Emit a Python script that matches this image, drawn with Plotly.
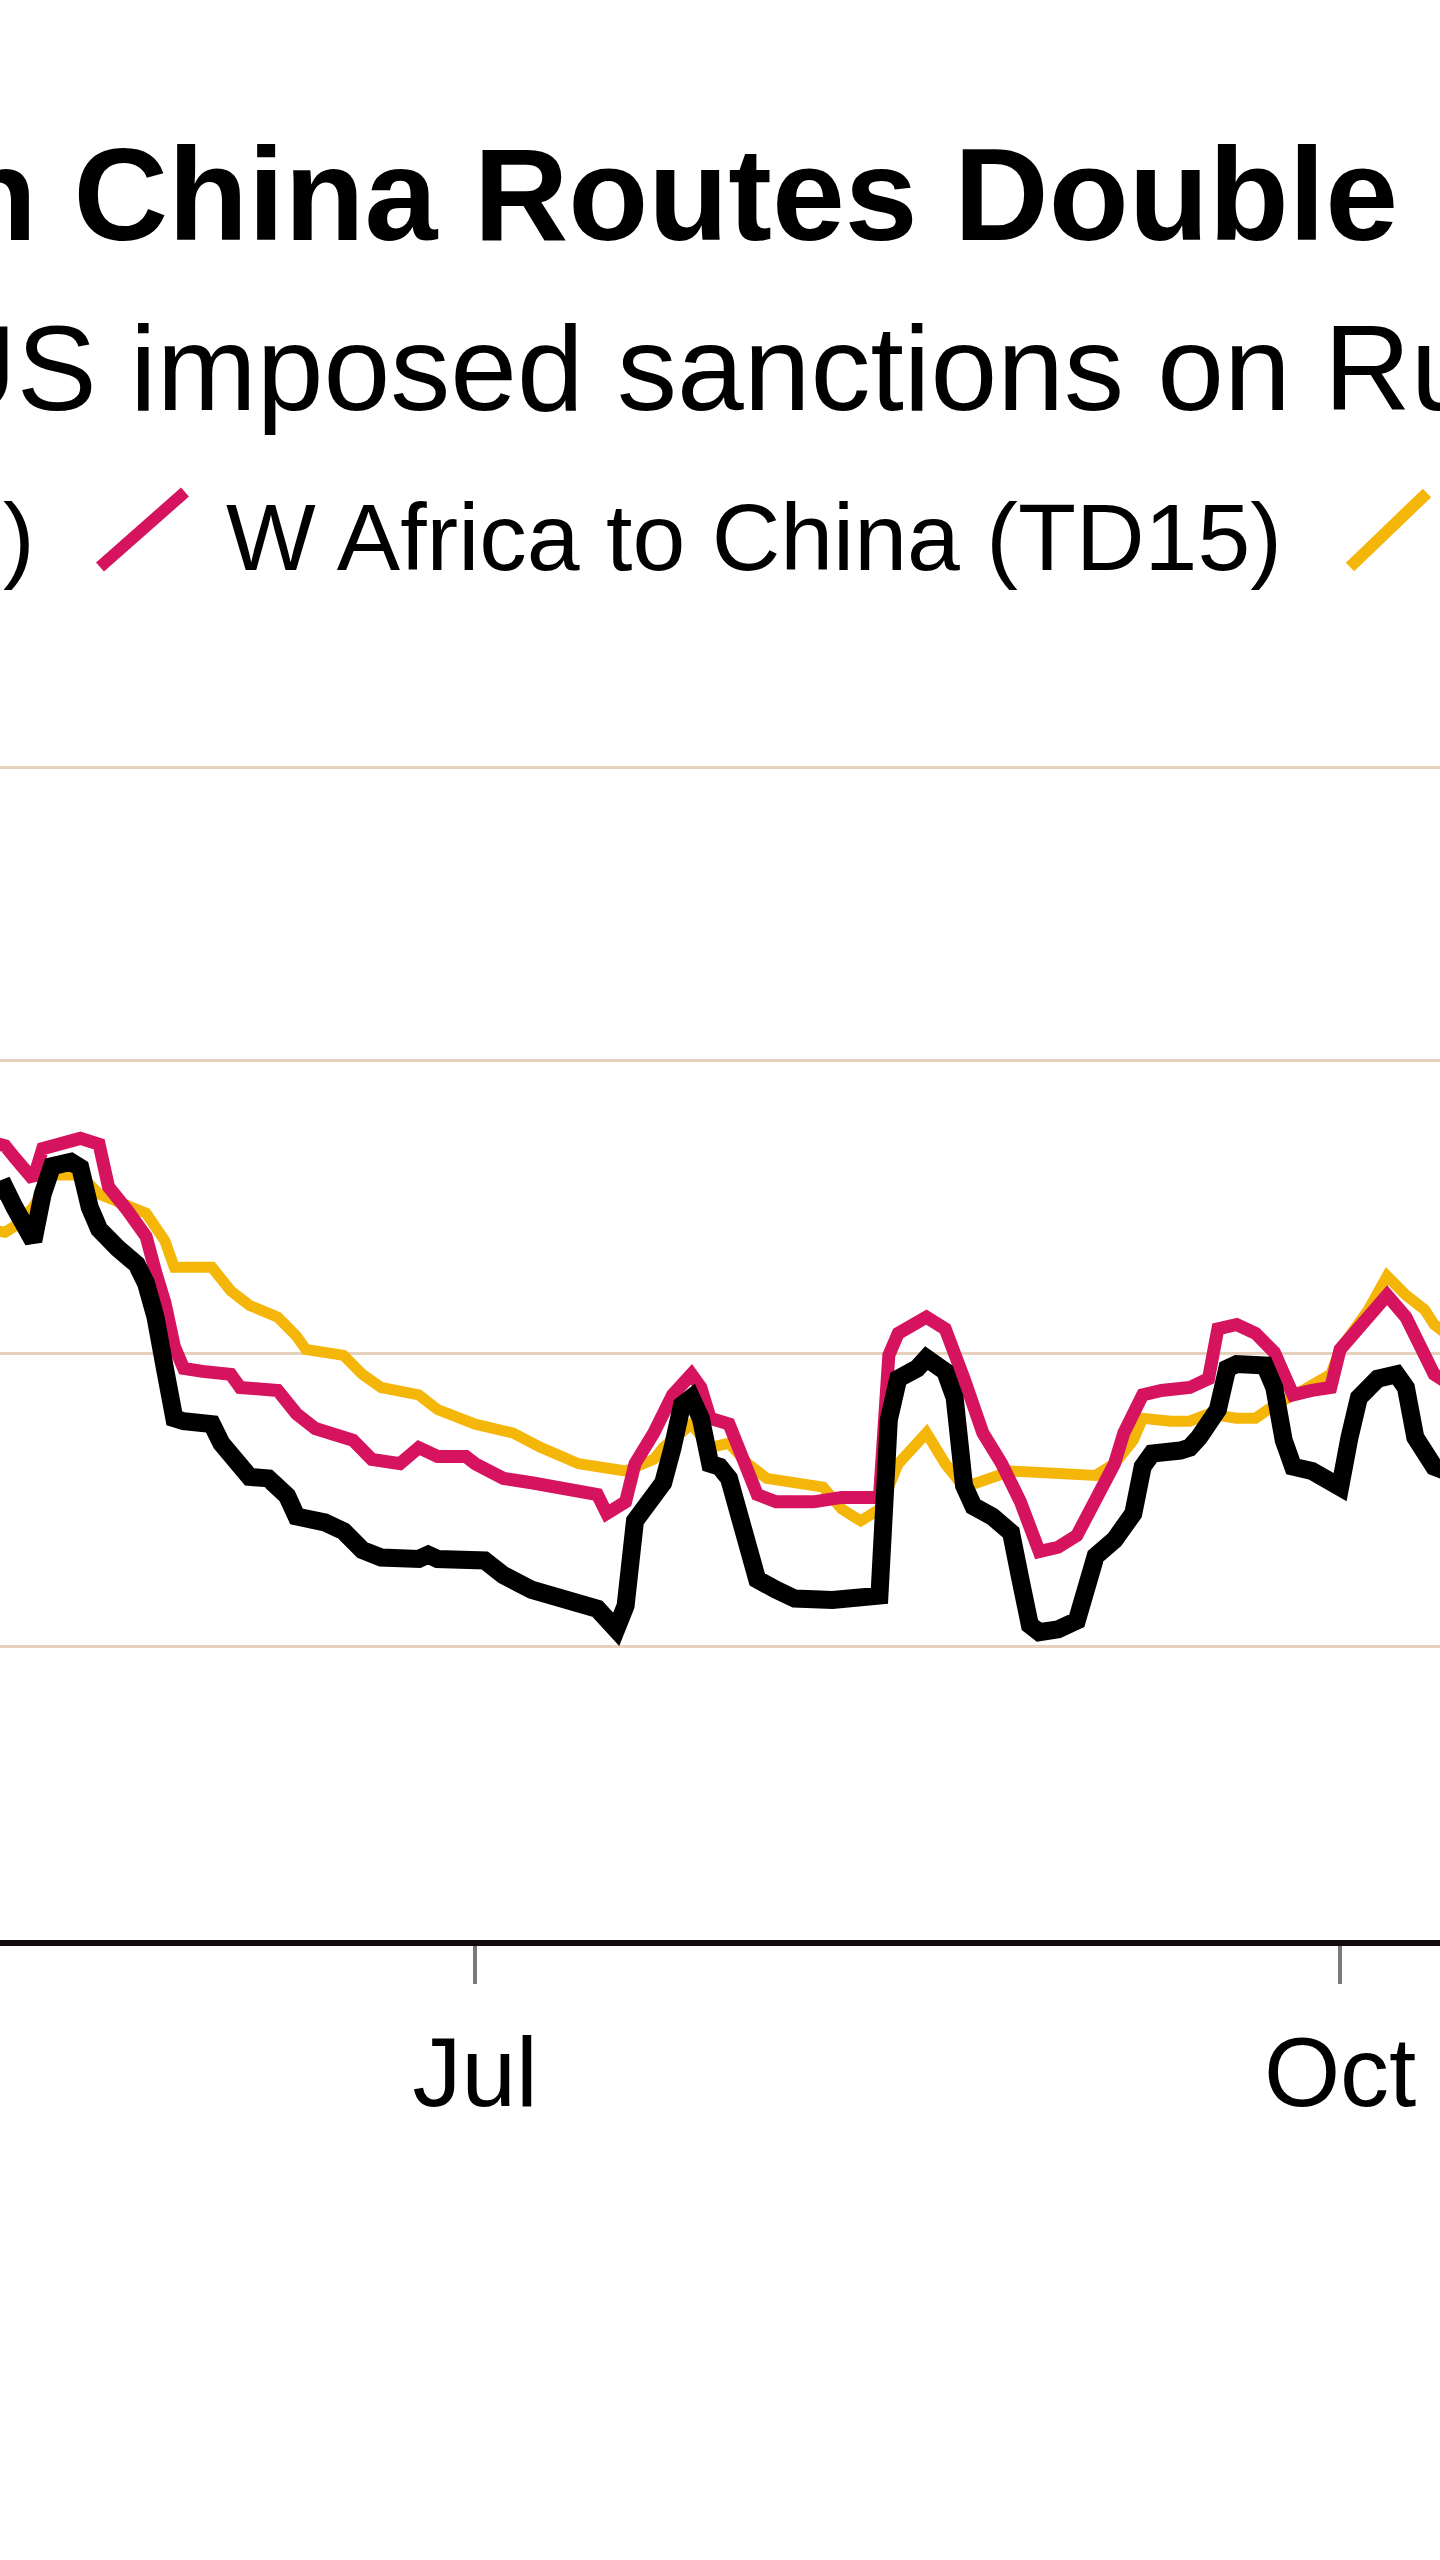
import plotly.graph_objects as go

# ---------------- data ----------------
black_dates = ["2025-05-10","2025-05-12","2025-05-13","2025-05-15","2025-05-16","2025-05-17","2025-05-19",
    "2025-05-20","2025-05-21","2025-05-22","2025-05-24","2025-05-26","2025-05-27","2025-05-28","2025-05-29",
    "2025-05-30","2025-05-31","2025-06-03","2025-06-04","2025-06-06","2025-06-07","2025-06-09","2025-06-11",
    "2025-06-12","2025-06-15","2025-06-17","2025-06-19","2025-06-21","2025-06-25","2025-06-26","2025-06-27",
    "2025-07-02","2025-07-04","2025-07-07","2025-07-10","2025-07-14","2025-07-16","2025-07-17","2025-07-18",
    "2025-07-19","2025-07-21","2025-07-22","2025-07-23","2025-07-24","2025-07-25","2025-07-26","2025-07-27",
    "2025-07-28","2025-07-30","2025-07-31","2025-08-02","2025-08-04","2025-08-08","2025-08-11","2025-08-13",
    "2025-08-14","2025-08-15","2025-08-17","2025-08-18","2025-08-20","2025-08-21","2025-08-22","2025-08-23",
    "2025-08-25","2025-08-27","2025-08-28","2025-08-29","2025-08-30","2025-09-01","2025-09-03","2025-09-04",
    "2025-09-05","2025-09-07","2025-09-09","2025-09-10","2025-09-11","2025-09-14","2025-09-15","2025-09-16",
    "2025-09-18","2025-09-19","2025-09-20","2025-09-23","2025-09-24","2025-09-25","2025-09-26","2025-09-28",
    "2025-09-30","2025-10-01","2025-10-02","2025-10-03","2025-10-05","2025-10-07","2025-10-08","2025-10-09",
    "2025-10-11","2025-10-13"]
black_values = [70.8,71.3,70.0,67.7,70.9,72.8,73.1,
    72.7,70.0,68.5,67.2,66.1,64.8,62.5,59.0,
    55.6,55.4,55.2,53.9,52.3,51.6,51.5,50.3,
    48.9,48.5,47.9,46.6,46.1,46.0,46.3,46.0,
    45.9,44.9,43.9,43.3,42.6,41.2,42.8,48.6,
    49.6,51.2,53.6,56.5,57.0,55.6,52.5,52.3,
    51.5,47.3,44.6,43.9,43.3,43.2,43.2,43.5,
    55.5,58.3,59.0,59.7,58.8,57.0,51.0,49.6,
    48.9,47.8,44.6,41.5,41.0,41.2,41.8,44.6,
    46.2,47.3,49.1,52.3,53.2,53.4,53.6,54.3,
    56.2,59.0,59.3,59.2,57.7,54.1,52.3,52.0,
    51.2,50.9,54.3,57.0,58.3,58.6,57.7,54.3,
    52.3,51.8]

crimson_dates = ["2025-05-10","2025-05-12","2025-05-13","2025-05-15","2025-05-16","2025-05-18","2025-05-20",
    "2025-05-22","2025-05-23","2025-05-25","2025-05-27","2025-05-28","2025-05-29","2025-05-30","2025-05-31",
    "2025-06-02","2025-06-05","2025-06-06","2025-06-10","2025-06-12","2025-06-14","2025-06-18","2025-06-20",
    "2025-06-23","2025-06-25","2025-06-27","2025-06-30","2025-07-01","2025-07-04","2025-07-07","2025-07-10",
    "2025-07-14","2025-07-15","2025-07-17","2025-07-18","2025-07-20","2025-07-22","2025-07-24","2025-07-25",
    "2025-07-26","2025-07-28","2025-07-29","2025-07-31","2025-08-02","2025-08-06","2025-08-09","2025-08-13",
    "2025-08-14","2025-08-15","2025-08-18","2025-08-20","2025-08-22","2025-08-24","2025-08-26","2025-08-28",
    "2025-08-30","2025-09-01","2025-09-03","2025-09-05","2025-09-07","2025-09-08","2025-09-10","2025-09-12",
    "2025-09-15","2025-09-17","2025-09-18","2025-09-20","2025-09-22","2025-09-24","2025-09-26","2025-09-28",
    "2025-09-30","2025-10-01","2025-10-04","2025-10-06","2025-10-08","2025-10-10","2025-10-11","2025-10-13"]
crimson_values = [74.5,74.2,73.4,71.9,74.0,74.4,74.7,
    74.3,71.4,69.8,68.0,65.6,63.5,60.5,59.0,
    58.8,58.6,57.7,57.5,55.9,54.9,54.1,52.8,
    52.5,53.6,53.0,53.0,52.5,51.5,51.2,50.9,
    50.4,49.1,49.9,52.5,54.6,57.2,58.6,57.7,
    55.6,55.2,53.6,50.4,49.9,49.9,50.2,50.2,
    59.9,61.4,62.5,61.7,58.3,54.6,52.5,49.9,
    46.5,46.8,47.6,49.9,52.5,54.6,57.2,57.5,
    57.7,58.3,61.7,62.0,61.4,60.1,57.2,57.5,
    57.7,60.3,62.5,64.0,62.5,59.6,58.6,57.8]

yellow_dates = ["2025-05-10","2025-05-12","2025-05-13","2025-05-15","2025-05-17","2025-05-20","2025-05-22",
    "2025-05-25","2025-05-27","2025-05-29","2025-05-30","2025-06-03","2025-06-05","2025-06-07","2025-06-10",
    "2025-06-12","2025-06-13","2025-06-17","2025-06-19","2025-06-21","2025-06-25","2025-06-27","2025-06-29",
    "2025-07-01","2025-07-05","2025-07-08","2025-07-12","2025-07-15","2025-07-17","2025-07-20","2025-07-21",
    "2025-07-24","2025-07-26","2025-07-28","2025-07-30","2025-08-01","2025-08-04","2025-08-07","2025-08-09",
    "2025-08-11","2025-08-13","2025-08-15","2025-08-18","2025-08-20","2025-08-22","2025-08-27","2025-09-05",
    "2025-09-07","2025-09-09","2025-09-10","2025-09-13","2025-09-15","2025-09-17","2025-09-20","2025-09-22",
    "2025-09-24","2025-09-27","2025-09-30","2025-10-01","2025-10-04","2025-10-06","2025-10-08","2025-10-10",
    "2025-10-11","2025-10-13"]
yellow_values = [68.5,68.3,68.7,70.0,72.2,72.2,70.9,
    70.0,69.6,67.7,65.9,65.9,64.3,63.3,62.5,
    61.2,60.3,59.9,58.6,57.7,57.2,56.2,55.6,
    55.2,54.6,53.6,52.5,52.3,52.0,52.8,53.6,
    55.2,53.6,53.9,52.5,51.5,51.2,50.9,49.4,
    48.6,49.4,52.5,54.6,52.5,50.9,52.0,51.7,
    52.5,54.1,55.6,55.4,55.4,55.9,55.6,55.6,
    56.5,57.5,58.6,60.3,63.0,65.3,64.0,63.0,
    62.0,61.0]

tick_dates = ["2025-07-01", "2025-10-01"]
tick_labels = ["Jul", "Oct"]
grid_values = [40, 60, 80, 100]

title_text = "n China Routes Double"
subtitle_text = "US imposed sanctions on Rus"
legend_left_tail = ")"
legend_mid = "W Africa to China (TD15)"

# ---------------- styling / layout ----------------
W, H = 1440, 2560
M_T, M_B = 709, 620
PLOT_H = H - M_T - M_B
AX_BOTTOM = H - M_B
FONT = "Liberation Sans, Arial, Helvetica, sans-serif"
BLACK = "#000000"
CRIMSON = "#d6135f"
YELLOW = "#f5b60a"

def py(pix):
    return (AX_BOTTOM - pix) / PLOT_H

def px(pix):
    return pix / W

fig = go.Figure()
fig.add_trace(go.Scatter(x=yellow_dates, y=yellow_values, mode="lines",
                         line=dict(color=YELLOW, width=11), showlegend=False, hoverinfo="skip"))
fig.add_trace(go.Scatter(x=crimson_dates, y=crimson_values, mode="lines",
                         line=dict(color=CRIMSON, width=13), showlegend=False, hoverinfo="skip"))
fig.add_trace(go.Scatter(x=black_dates, y=black_values, mode="lines",
                         line=dict(color=BLACK, width=18), showlegend=False, hoverinfo="skip"))

fig.update_layout(
    width=W, height=H,
    margin=dict(l=0, r=0, t=M_T, b=M_B, pad=0),
    paper_bgcolor="#ffffff", plot_bgcolor="#ffffff",
    showlegend=False,
    font=dict(family=FONT, color="#000000"),
)
fig.update_xaxes(
    type="date", range=["2025-05-11 11:00", "2025-10-11 15:00"],
    tickvals=tick_dates, ticktext=tick_labels,
    showgrid=False, zeroline=False,
    showline=True, linecolor="#140c0c", linewidth=6,
    ticks="outside", ticklen=38, tickwidth=4, tickcolor="#7a7a7a",
    tickfont=dict(family=FONT, size=98, color="#000000"),
    ticklabelstandoff=4,
)
fig.update_yaxes(
    range=[20, 104], tickvals=grid_values, showticklabels=False,
    showgrid=True, gridcolor="#e6d1ba", gridwidth=3,
    zeroline=False, showline=False, ticks="",
)

annos = [
    dict(text=title_text, x=px(-45), y=py(194.6), xanchor="left", yanchor="middle",
         font=dict(family=FONT, size=131, color="#000000", weight="bold")),
    dict(text=subtitle_text, x=px(-72), y=py(368.4), xanchor="left", yanchor="middle",
         font=dict(family=FONT, size=120, color="#000000")),
    dict(text=legend_left_tail, x=px(37), y=py(537), xanchor="right", yanchor="middle",
         font=dict(family=FONT, size=95, color="#000000")),
    dict(text=legend_mid, x=px(224), y=py(537), xanchor="left", yanchor="middle",
         font=dict(family=FONT, size=95, color="#000000")),
]
for a in annos:
    fig.add_annotation(xref="paper", yref="paper", showarrow=False, **a)

# legend key slashes
fig.add_shape(type="line", xref="paper", yref="paper",
              x0=px(100), y0=py(567), x1=px(185), y1=py(492),
              line=dict(color=CRIMSON, width=12))
fig.add_shape(type="line", xref="paper", yref="paper",
              x0=px(1350), y0=py(567), x1=px(1427), y1=py(493),
              line=dict(color=YELLOW, width=12))

fig.write_html("out.html")
